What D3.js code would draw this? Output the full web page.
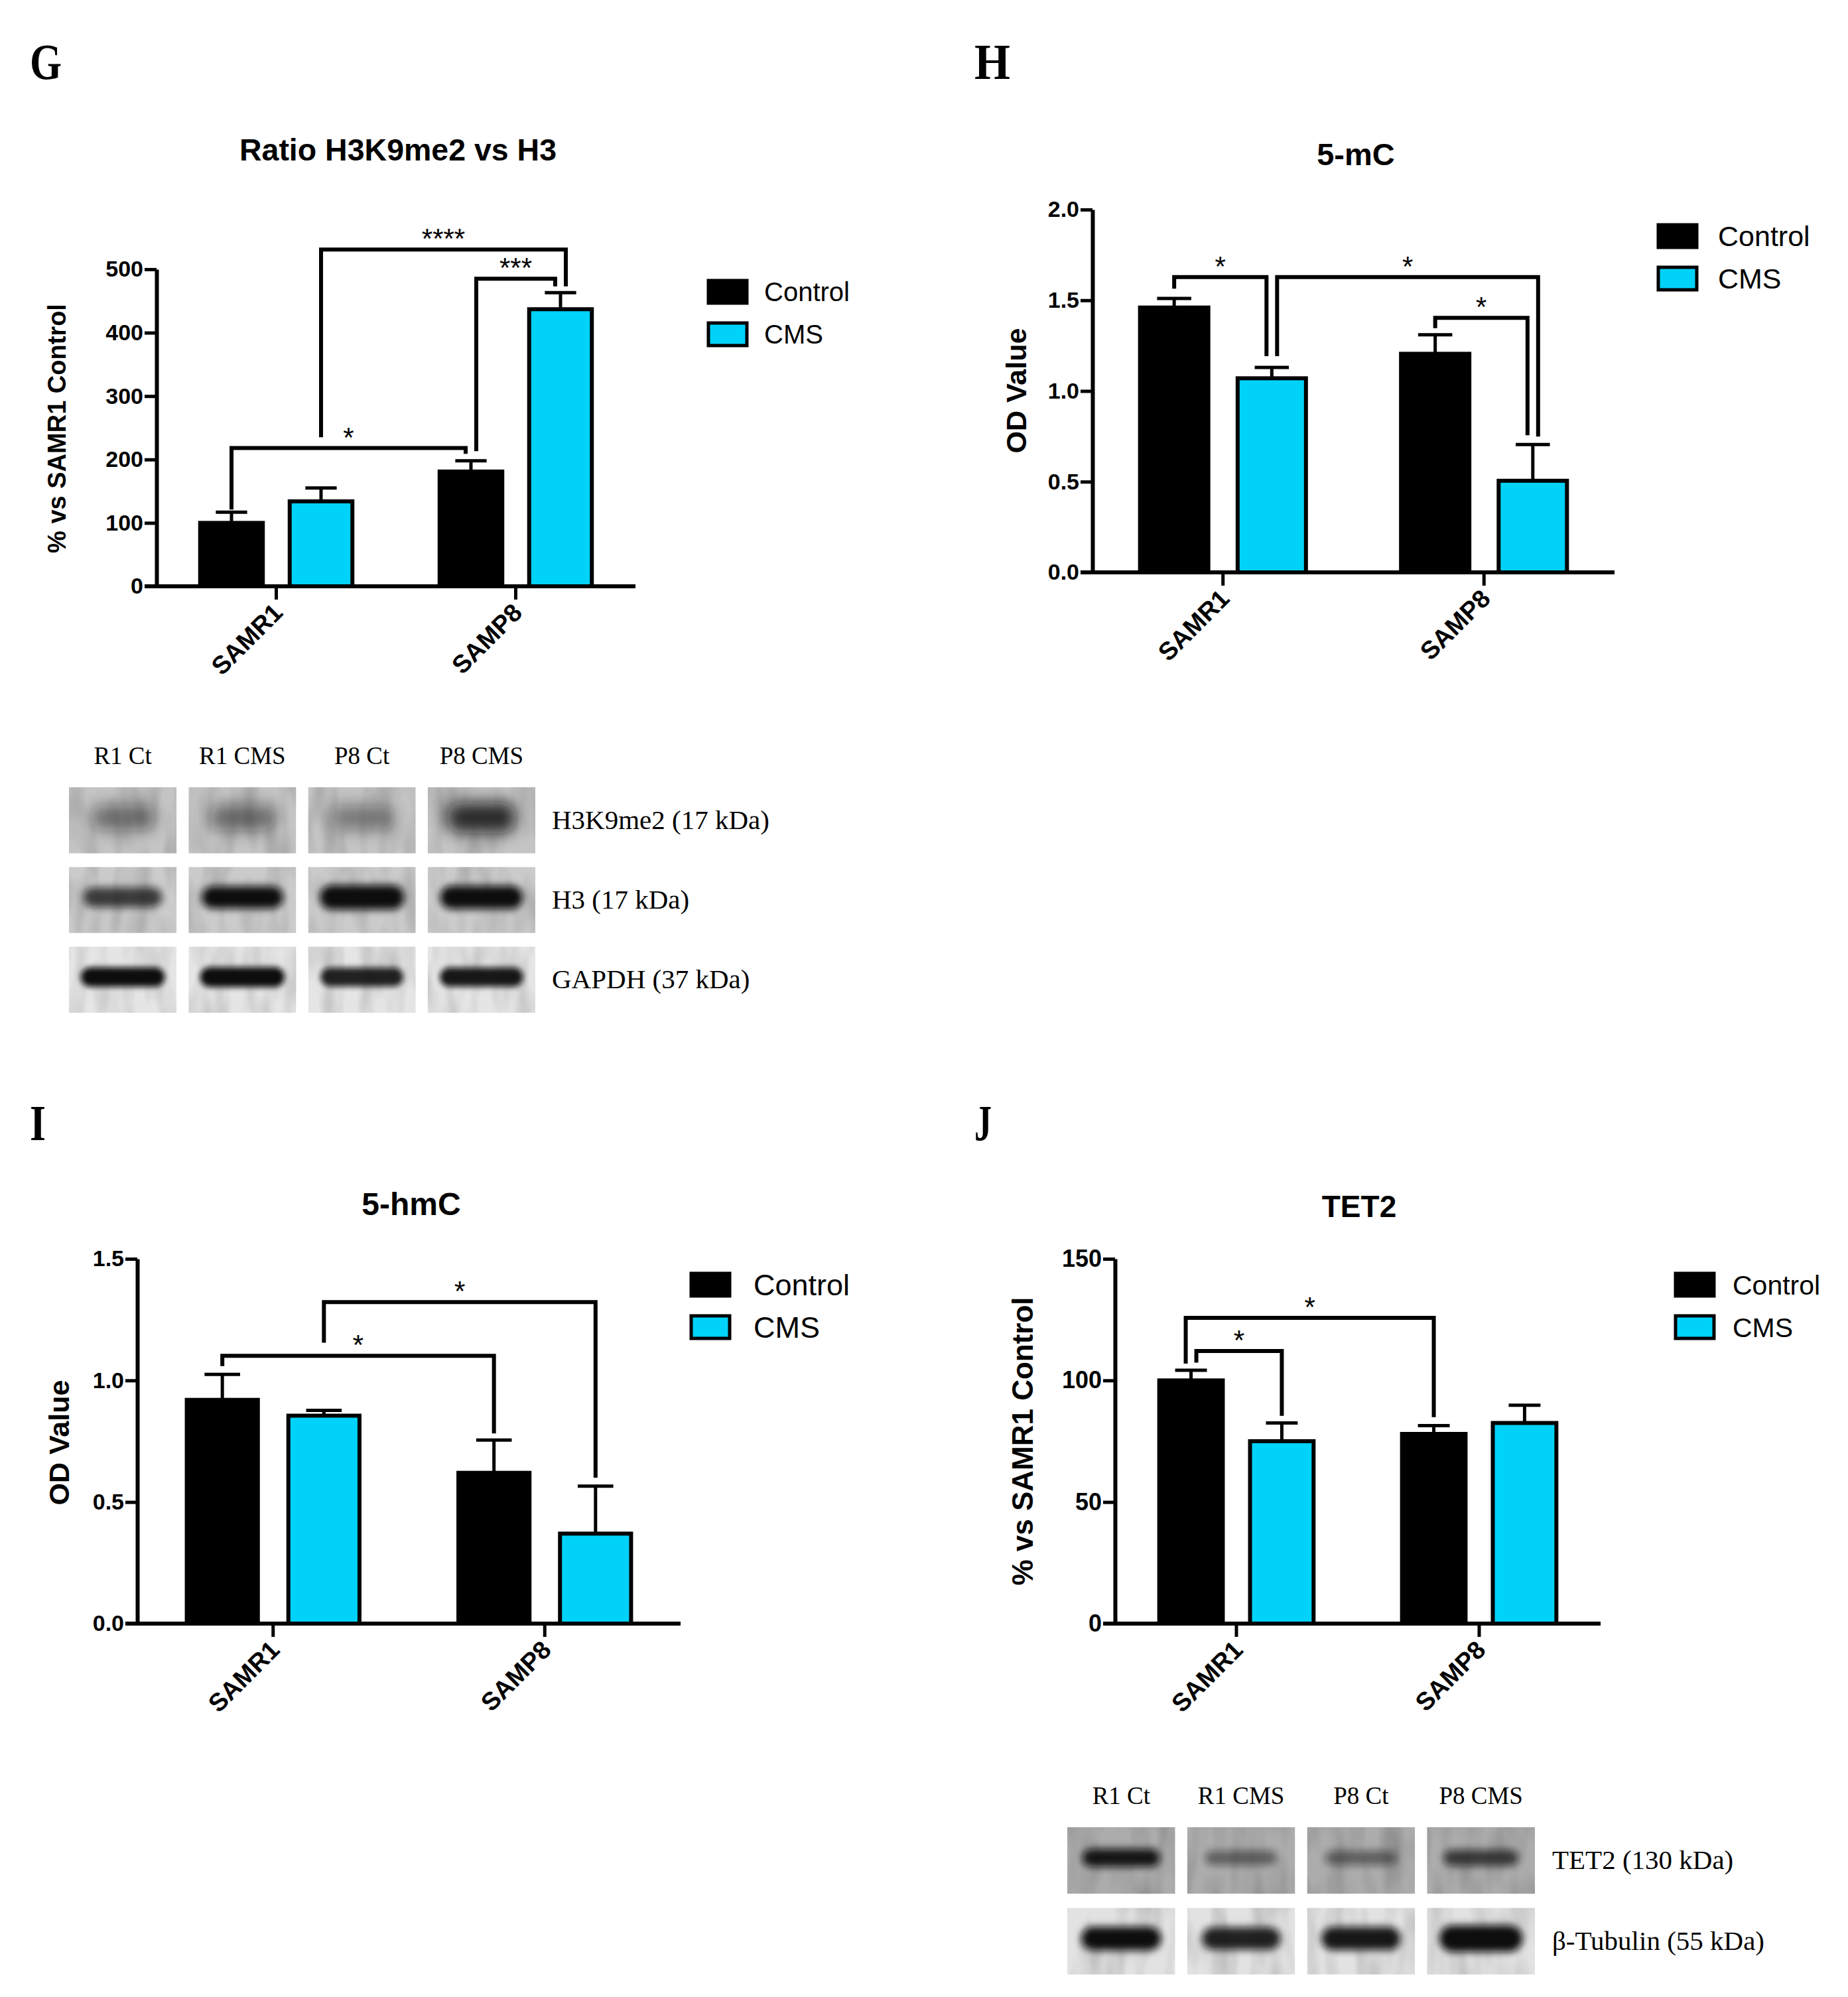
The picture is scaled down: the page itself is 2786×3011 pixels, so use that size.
<!DOCTYPE html>
<html>
<head>
<meta charset="utf-8">
<script src="https://cdn.jsdelivr.net/npm/d3@7"></script>
<style>
  body { margin: 0; background: #fff; }
  svg text { font-family: "Liberation Sans", Arial, sans-serif; fill: #000; }
</style>
</head>
<body>
<script>
// ---- data ----
const groups = ["SAMR1", "SAMP8"];
const seriesNames = ["Control", "CMS"];

// G: Ratio H3K9me2 vs H3 (% vs SAMR1 control)
const h3k9Ticks = [0, 100, 200, 300, 400, 500];
const h3k9Control = [100, 181];
const h3k9Cms = [134, 437];
const h3k9ControlErr = [17, 17];
const h3k9CmsErr = [21, 26];
const h3k9Sig = [
  {a: ["SAMR1", "Control"], b: ["SAMP8", "Control"], top: 218, endA: 121, endB: 209, label: "*"},
  {a: ["SAMR1", "CMS"], b: ["SAMP8", "CMS"], top: 531, endA: 235, endB: 473, label: "****"},
  {a: ["SAMP8", "Control"], b: ["SAMP8", "CMS"], top: 485, endA: 213, endB: 473, label: "***"}
];

// H: 5-mC (OD value)
const mcTicks = [0, 0.5, 1.0, 1.5, 2.0];
const mcControl = [1.46, 1.205];
const mcCms = [1.07, 0.505];
const mcControlErr = [0.05, 0.105];
const mcCmsErr = [0.06, 0.20];
const mcSig = [
  {a: ["SAMR1", "Control"], b: ["SAMR1", "CMS"], top: 1.628, endA: 1.564, endB: 1.192, label: "*"},
  {a: ["SAMR1", "CMS"], b: ["SAMP8", "CMS"], top: 1.628, endA: 1.192, endB: 0.749, label: "*"},
  {a: ["SAMP8", "Control"], b: ["SAMP8", "CMS"], top: 1.403, endA: 1.346, endB: 0.756, label: "*"}
];

// I: 5-hmC (OD value)
const hmcTicks = [0, 0.5, 1.0, 1.5];
const hmcControl = [0.92, 0.62];
const hmcCms = [0.855, 0.37];
const hmcControlErr = [0.105, 0.135];
const hmcCmsErr = [0.022, 0.195];
const hmcSig = [
  {a: ["SAMR1", "Control"], b: ["SAMP8", "Control"], top: 1.101, endA: 1.059, endB: 0.782, label: "*"},
  {a: ["SAMR1", "CMS"], b: ["SAMP8", "CMS"], top: 1.322, endA: 1.155, endB: 0.600, label: "*"}
];

// J: TET2 (% vs SAMR1 control)
const tetTicks = [0, 50, 100, 150];
const tetControl = [100, 78];
const tetCms = [75, 82.5];
const tetControlErr = [4.2, 3.4];
const tetCmsErr = [7.5, 7.3];
const tetSig = [
  {a: ["SAMR1", "Control"], b: ["SAMP8", "Control"], top: 125.7, endA: 106.9, endB: 84.9, label: "*"},
  {a: ["SAMR1", "Control"], b: ["SAMR1", "CMS"], top: 112.1, endA: 107.3, endB: 85.4, label: "*"}
];

// western blots: lanes, rows and relative band density
const blotLanes = ["R1 Ct", "R1 CMS", "P8 Ct", "P8 CMS"];
const blotGRows = ["H3K9me2 (17 kDa)", "H3 (17 kDa)", "GAPDH (37 kDa)"];
const blotGDensity = [
  [0.5, 0.55, 0.45, 0.9],
  [0.75, 1.0, 1.25, 1.1],
  [1.0, 1.05, 0.9, 0.95]
];
const blotJRows = ["TET2 (130 kDa)", "β-Tubulin (55 kDa)"];
const blotJDensity = [
  [1.0, 0.5, 0.5, 0.75],
  [1.0, 0.9, 0.95, 1.3]
];

// ---- drawing ----
const CYAN = "#00d2f9";
const svg = d3.select("body").append("svg")
  .attr("width", 2786)
  .attr("height", 3011);

const defs = svg.append("defs");
[4, 6, 12].forEach(s => {
  defs.append("filter").attr("id", "blur" + s)
    .attr("x", "-50%").attr("y", "-100%").attr("width", "200%").attr("height", "300%")
    .append("feGaussianBlur").attr("stdDeviation", s);
});
// film grain for the blot backgrounds
const grain = defs.append("filter").attr("id", "grain")
  .attr("x", 0).attr("y", 0).attr("width", "100%").attr("height", "100%");
grain.append("feTurbulence").attr("type", "fractalNoise")
  .attr("baseFrequency", "0.035 0.012").attr("numOctaves", 2).attr("seed", 7);
grain.append("feColorMatrix").attr("type", "matrix")
  .attr("values", "0 0 0 0 0  0 0 0 0 0  0 0 0 0 0  0 0 0 -1.2 0.75");

function drawChart(p) {
  const g = svg.append("g");

  g.append("text")
    .attr("x", p.letterX).attr("y", p.letterY)
    .style("font-family", "'Liberation Serif', 'DejaVu Serif', serif")
    .attr("font-weight", "bold").attr("font-size", 76)
    .attr("textLength", p.letterW).attr("lengthAdjust", "spacingAndGlyphs")
    .text(p.letter);

  g.append("text")
    .attr("x", p.titleX).attr("y", p.titleY)
    .attr("text-anchor", "middle").attr("font-weight", "bold")
    .attr("font-size", p.titleSize)
    .text(p.title);

  const x0 = d3.scaleBand().domain(groups).range([p.left, p.right]);
  const x1 = d3.scaleBand().domain(seriesNames).range([0, x0.bandwidth()])
    .paddingInner(0.3).paddingOuter(0.487);
  const y = d3.scaleLinear().domain([0, d3.max(p.ticks)]).range([p.bottom, p.top]);

  const rows = [];
  groups.forEach((grp, i) => {
    rows.push({grp: grp, s: "Control", v: p.control[i], e: p.controlErr[i]});
    rows.push({grp: grp, s: "CMS", v: p.cms[i], e: p.cmsErr[i]});
  });
  const cx = d => x0(d.grp) + x1(d.s) + x1.bandwidth() / 2;

  // error bars (upper only)
  const err = g.append("g").attr("stroke", "#000").attr("stroke-width", 5);
  err.selectAll("line.stem").data(rows).join("line")
    .attr("x1", cx).attr("x2", cx)
    .attr("y1", d => y(d.v)).attr("y2", d => y(d.v + d.e));
  err.selectAll("line.cap").data(rows).join("line")
    .attr("x1", d => cx(d) - x1.bandwidth() / 4).attr("x2", d => cx(d) + x1.bandwidth() / 4)
    .attr("y1", d => y(d.v + d.e)).attr("y2", d => y(d.v + d.e));

  // bars
  g.append("g").selectAll("rect").data(rows).join("rect")
    .attr("x", d => x0(d.grp) + x1(d.s))
    .attr("width", x1.bandwidth())
    .attr("y", d => y(d.v))
    .attr("height", d => y(0) - y(d.v))
    .attr("fill", d => d.s === "CMS" ? CYAN : "#000")
    .attr("stroke", "#000")
    .attr("stroke-width", 6);

  // y axis
  g.append("g")
    .attr("transform", `translate(${p.left},0)`)
    .call(d3.axisLeft(y).tickValues(p.ticks).tickFormat(d3.format(p.fmt))
      .tickSize(18).tickPadding(2).tickSizeOuter(0))
    .call(a => a.select(".domain").attr("stroke-width", 6))
    .call(a => a.selectAll(".tick line").attr("stroke-width", 5))
    .call(a => a.selectAll(".tick text")
      .attr("font-size", p.tickSize).attr("font-weight", "bold")
      .style("font-family", "'Liberation Sans Narrow', 'Liberation Sans', Arial, sans-serif"));

  // x axis
  const xa = g.append("g")
    .attr("transform", `translate(0,${y(0)})`)
    .call(d3.axisBottom(x0).tickSize(20).tickFormat("").tickSizeOuter(0));
  xa.select(".domain").remove();
  xa.selectAll(".tick line").attr("stroke-width", 5);
  xa.append("line")
    .attr("x1", p.left - 18).attr("x2", p.right)
    .attr("stroke", "#000").attr("stroke-width", 6);

  g.selectAll("text.cat").data(groups).join("text")
    .attr("transform", d => `translate(${x0(d) + x0.bandwidth() / 2 + 12},${y(0) + 42}) rotate(-45)`)
    .attr("text-anchor", "end").attr("font-weight", "bold").attr("font-size", 38)
    .text(d => d);

  // y label
  g.append("text")
    .attr("transform", `translate(${p.ylabX + p.ylabSize * 0.36},${p.ylabY}) rotate(-90)`)
    .attr("text-anchor", "middle").attr("font-weight", "bold")
    .attr("font-size", p.ylabSize)
    .text(p.ylab);

  // legend
  const leg = g.append("g").attr("transform", `translate(${p.legX},${p.legY})`);
  seriesNames.forEach((s, i) => {
    leg.append("rect")
      .attr("x", 2).attr("y", i * 64 + 2).attr("width", 58).attr("height", 34)
      .attr("fill", s === "CMS" ? CYAN : "#000")
      .attr("stroke", "#000").attr("stroke-width", 5);
    leg.append("text")
      .attr("x", p.legGap).attr("y", i * 64 + 19 + p.legSize * 0.36)
      .attr("font-size", p.legSize)
      .text(s);
  });

  drawBrackets(g, p.sig, x0, x1, y);
}

function drawBrackets(g, sig, x0, x1, y) {
  const S = 8;
  const center = (grp, s) => x0(grp) + x1(s) + x1.bandwidth() / 2;
  const ends = [];
  sig.forEach((b, i) => {
    const span = Math.abs(center(...b.b) - center(...b.a));
    ends.push({i: i, side: "A", key: b.a.join("|"), span: span});
    ends.push({i: i, side: "B", key: b.b.join("|"), span: span});
  });
  // legs that land on the same bar are pushed apart a little
  const shift = {};
  d3.group(ends, e => e.key).forEach(list => {
    list.forEach(e => shift[e.i + e.side] = 0);
    if (list.length < 2) return;
    const [p, q] = list;
    if (p.side !== q.side) {
      list.forEach(e => shift[e.i + e.side] = e.side === "A" ? S : -S);
    } else {
      const out = p.side === "A" ? -S : S;
      const sorted = list.slice().sort((m, n) => n.span - m.span);
      shift[sorted[0].i + sorted[0].side] = out;
      shift[sorted[1].i + sorted[1].side] = -out;
    }
  });

  sig.forEach((b, i) => {
    const xa = center(...b.a) + shift[i + "A"];
    const xb = center(...b.b) + shift[i + "B"];
    g.append("path")
      .attr("d", `M${xa},${y(b.endA)}V${y(b.top)}H${xb}V${y(b.endB)}`)
      .attr("fill", "none").attr("stroke", "#000").attr("stroke-width", 6)
      .attr("stroke-linejoin", "miter");
    g.append("text")
      .attr("x", (xa + xb) / 2).attr("y", y(b.top) - 2)
      .attr("text-anchor", "middle").attr("font-size", 42)
      .text(b.label);
  });
}

function drawBlot(b) {
  const g = svg.append("g");
  const lx = d3.scaleBand().domain(blotLanes).range([b.left, b.right]).paddingInner(0.1);
  const ry = d3.scaleBand().domain(b.rows).range([b.top, b.bottom]).paddingInner(b.rowPad);
  const serif = "'Liberation Serif', 'DejaVu Serif', serif";

  g.selectAll("text.lane").data(blotLanes).join("text")
    .attr("x", d => lx(d) + lx.bandwidth() / 2).attr("y", b.labelY)
    .attr("text-anchor", "middle").attr("font-size", 37)
    .style("font-family", serif)
    .text(d => d);

  b.rows.forEach((row, r) => {
    const st = b.style[r];
    blotLanes.forEach((lane, c) => {
      const d = b.density[r][c];
      const id = `clip-${b.id}-${r}-${c}`;
      g.append("clipPath").attr("id", id).append("rect")
        .attr("x", lx(lane)).attr("y", ry(row))
        .attr("width", lx.bandwidth()).attr("height", ry.bandwidth());
      const cell = g.append("g").attr("clip-path", `url(#${id})`);
      cell.append("rect")
        .attr("x", lx(lane)).attr("y", ry(row))
        .attr("width", lx.bandwidth()).attr("height", ry.bandwidth())
        .attr("fill", st.bg);
      cell.append("rect")
        .attr("x", lx(lane)).attr("y", ry(row))
        .attr("width", lx.bandwidth()).attr("height", ry.bandwidth())
        .attr("filter", "url(#grain)")
        .attr("opacity", 0.25);
      const w = lx.bandwidth() * st.wide * (0.85 + 0.15 * Math.min(d, 1.3));
      const h = st.thick * (0.6 + 0.45 * d);
      cell.append("rect")
        .attr("x", lx(lane) + (lx.bandwidth() - w) / 2)
        .attr("y", ry(row) + ry.bandwidth() / 2 - 4 - h / 2)
        .attr("width", w).attr("height", h)
        .attr("rx", h / 2)
        .attr("fill", "#0a0a0a")
        .attr("opacity", Math.min(1, st.gain * d))
        .attr("filter", `url(#blur${st.blur})`);
    });
    g.append("text")
      .attr("x", b.textX).attr("y", ry(row) + ry.bandwidth() / 2 + 13)
      .attr("font-size", 41)
      .style("font-family", serif)
      .text(row);
  });
}

drawChart({
  letter: "G", letterX: 45, letterY: 119, letterW: 48,
  title: "Ratio H3K9me2 vs H3", titleX: 600, titleY: 242, titleSize: 46.5,
  left: 236, right: 958, top: 406, bottom: 884,
  ticks: h3k9Ticks, fmt: "d", tickSize: 34,
  control: h3k9Control, cms: h3k9Cms, controlErr: h3k9ControlErr, cmsErr: h3k9CmsErr,
  sig: h3k9Sig,
  ylab: "% vs SAMR1 Control", ylabX: 85, ylabY: 646, ylabSize: 38,
  legX: 1066, legY: 421, legSize: 40, legGap: 86
});

drawChart({
  letter: "H", letterX: 1469, letterY: 119, letterW: 54,
  title: "5-mC", titleX: 2044, titleY: 249, titleSize: 47,
  left: 1647, right: 2434, top: 316, bottom: 863,
  ticks: mcTicks, fmt: ".1f", tickSize: 34,
  control: mcControl, cms: mcCms, controlErr: mcControlErr, cmsErr: mcCmsErr,
  sig: mcSig,
  ylab: "OD Value", ylabX: 1532, ylabY: 589, ylabSize: 43,
  legX: 2498, legY: 337, legSize: 43, legGap: 92
});

drawChart({
  letter: "I", letterX: 45, letterY: 1719, letterW: 24,
  title: "5-hmC", titleX: 620, titleY: 1832, titleSize: 48,
  left: 207, right: 1026, top: 1898, bottom: 2448,
  ticks: hmcTicks, fmt: ".1f", tickSize: 34,
  control: hmcControl, cms: hmcCms, controlErr: hmcControlErr, cmsErr: hmcCmsErr,
  sig: hmcSig,
  ylab: "OD Value", ylabX: 89, ylabY: 2175, ylabSize: 43,
  legX: 1040, legY: 1918, legSize: 45, legGap: 96
});

drawChart({
  letter: "J", letterX: 1469, letterY: 1719, letterW: 26,
  title: "TET2", titleX: 2049, titleY: 1835, titleSize: 46,
  left: 1681, right: 2413, top: 1898, bottom: 2448,
  ticks: tetTicks, fmt: "d", tickSize: 36,
  control: tetControl, cms: tetCms, controlErr: tetControlErr, cmsErr: tetCmsErr,
  sig: tetSig,
  ylab: "% vs SAMR1 Control", ylabX: 1541, ylabY: 2173, ylabSize: 44,
  legX: 2524, legY: 1918, legSize: 41, legGap: 88
});

drawBlot({
  id: "g", rows: blotGRows, density: blotGDensity,
  left: 104, right: 807, top: 1187, bottom: 1527, rowPad: 0.17,
  labelY: 1152, textX: 832,
  style: [
    {bg: "#c4c4c4", wide: 0.66, thick: 46, blur: 12, gain: 0.95},
    {bg: "#cbcbcb", wide: 0.76, thick: 32, blur: 6, gain: 1.0},
    {bg: "#e5e5e5", wide: 0.78, thick: 28, blur: 4, gain: 1.0}
  ]
});

drawBlot({
  id: "j", rows: blotJRows, density: blotJDensity,
  left: 1609, right: 2314, top: 2755, bottom: 2977, rowPad: 0.174,
  labelY: 2720, textX: 2340,
  style: [
    {bg: "#acacac", wide: 0.72, thick: 26, blur: 6, gain: 0.95},
    {bg: "#e2e2e2", wide: 0.74, thick: 34, blur: 6, gain: 1.0}
  ]
});
</script>
</body>
</html>
